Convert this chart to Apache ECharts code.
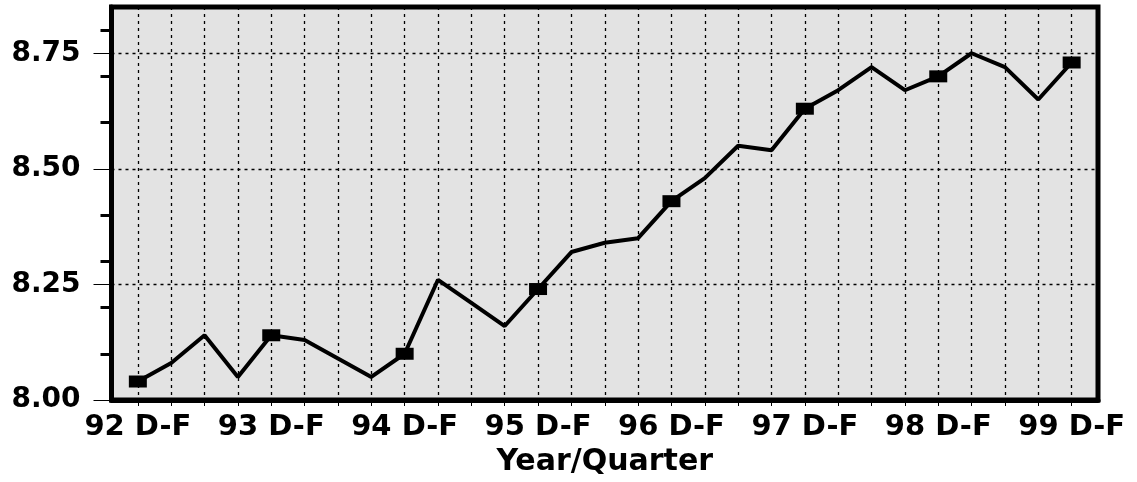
<!DOCTYPE html>
<html>
<head>
<meta charset="utf-8">
<script src="https://cdn.jsdelivr.net/npm/echarts@6/dist/echarts.min.js"></script>
<style>
html,body{margin:0;padding:0;background:#fff;}
#c{width:1137px;height:482px;}
</style>
</head>
<body>
<div id="c"></div>
<script>
// Quarterly values, 92 D-F .. 99 D-F (29 quarters)
const values = [8.04, 8.08, 8.14, 8.05, 8.14, 8.13, 8.09, 8.05, 8.10, 8.26,
                8.21, 8.16, 8.24, 8.32, 8.34, 8.35, 8.43, 8.48, 8.55, 8.54,
                8.63, 8.67, 8.72, 8.67, 8.70, 8.75, 8.72, 8.65, 8.73];
const xLabels = ['92 D-F', '93 D-F', '94 D-F', '95 D-F', '96 D-F', '97 D-F', '98 D-F', '99 D-F'];
const yMajorTicks = [8.00, 8.25, 8.50, 8.75];
const yMinorTicks = [8.1, 8.2, 8.3, 8.4, 8.6, 8.7, 8.8];
const markerEvery = 4;

const quarterIdx = values.map((v, i) => i);
const labelIdx = xLabels.map((l, i) => i * markerEvery);
const seriesData = values.map((v, i) => [quarterIdx[i], v]);

const FONT = 'DejaVu Sans';
const chart = echarts.init(document.getElementById('c'));
chart.setOption({
  animation: false,
  backgroundColor: '#ffffff',
  grid: {
    left: 111.5, right: 39, top: 7, bottom: 81,
    show: true, backgroundColor: '#e3e3e3',
    borderColor: '#000', borderWidth: 5
  },
  xAxis: {
    type: 'value', min: -0.79, max: 28.79,
    name: 'Year/Quarter', nameLocation: 'middle', nameGap: 47,
    nameTextStyle: {fontFamily: FONT, fontWeight: 'bold', fontSize: 30, color: '#000'},
    axisLine: {show: true, onZero: false, lineStyle: {color: '#000', width: 5}},
    axisTick: {show: true, customValues: quarterIdx, length: 6, lineStyle: {color: '#000', width: 1}},
    axisLabel: {
      customValues: labelIdx, margin: 13,
      fontFamily: FONT, fontWeight: 'bold', fontSize: 29, color: '#000',
      formatter: v => xLabels[Math.round(v / markerEvery)]
    },
    splitLine: {show: true, lineStyle: {color: '#000', width: 1.3, type: [3, 4]}}
  },
  yAxis: [{
    type: 'value', min: 8.0, max: 8.85, position: 'left',
    axisLine: {show: true, onZero: false, lineStyle: {color: '#000', width: 5}},
    axisTick: {show: true, customValues: yMajorTicks, length: 18, lineStyle: {color: '#000', width: 1}},
    axisLabel: {
      customValues: yMajorTicks, margin: 31,
      fontFamily: FONT, fontWeight: 'bold', fontSize: 28, color: '#000',
      formatter: v => v.toFixed(2)
    },
    splitLine: {show: true, lineStyle: {color: '#000', width: 1.3, type: [3, 4]}}
  }, {
    type: 'value', min: 8.0, max: 8.85, position: 'left', offset: 0,
    axisLine: {show: false, onZero: false},
    axisTick: {show: true, customValues: yMinorTicks, length: 11, lineStyle: {color: '#000', width: 3}},
    axisLabel: {show: false},
    splitLine: {show: false}
  }],
  series: [{
    type: 'line',
    data: seriesData,
    yAxisIndex: 0,
    showAllSymbol: true,
    symbol: (val, p) => (p.dataIndex % markerEvery === 0 ? 'rect' : 'none'),
    symbolSize: [18, 12],
    itemStyle: {color: '#000'},
    lineStyle: {color: '#000', width: 4},
    z: 5
  }]
});
</script>
</body>
</html>
